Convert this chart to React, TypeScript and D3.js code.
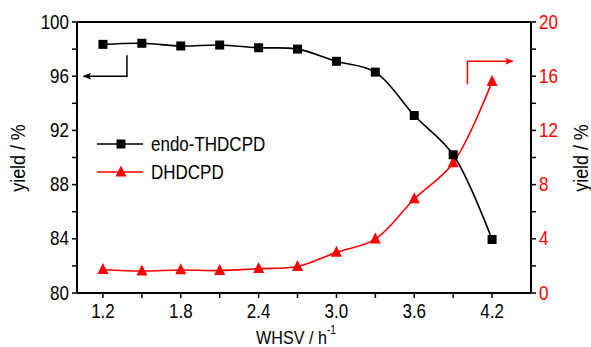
import * as d3 from 'd3'

const WHSV = [1.2, 1.5, 1.8, 2.1, 2.4, 2.7, 3.0, 3.3, 3.6, 3.9, 4.2]
const ENDO = [98.35, 98.43, 98.23, 98.3, 98.1, 98.0, 97.1, 96.3, 93.1, 90.2, 83.95]
const DHDCPD = [1.72, 1.62, 1.7, 1.65, 1.8, 1.95, 3.0, 3.98, 6.94, 9.6, 15.6]

const X_TICKS = [1.2, 1.8, 2.4, 3.0, 3.6, 4.2]
const X_MINOR = [1.5, 2.1, 2.7, 3.3, 3.9]
const YL_TICKS = [80, 84, 88, 92, 96, 100]
const YL_MINOR = [82, 86, 90, 94, 98]
const YR_TICKS = [0, 4, 8, 12, 16, 20]
const YR_MINOR = [2, 6, 10, 14, 18]

const RED = '#FF0000'
const FONT = '"Liberation Sans", Arial, sans-serif'
const SX = 0.85 // the original uses a narrow face

function Txt({ x, y, rot = 0, anchor = 'start', size = 20, fill = '#000', children }:
  { x: number; y: number; rot?: number; anchor?: string; size?: number; fill?: string; children: any }) {
  return (
    <text transform={`translate(${x},${y}) rotate(${rot}) scale(${SX},1)`}
      textAnchor={anchor} fontSize={size} fill={fill}>{children}</text>
  )
}

export default function App() {
  const W = 591, H = 347
  const m = { left: 77, right: 531, top: 22, bottom: 293 }

  const x = d3.scaleLinear().domain([1.0, 4.5]).range([m.left, m.right])
  const yL = d3.scaleLinear().domain([80, 100]).range([m.bottom, m.top])
  const yR = d3.scaleLinear().domain([0, 20]).range([m.bottom, m.top])

  const lineL = d3.line<number>()
    .x((_, i) => x(WHSV[i]))
    .y(d => yL(d))
    .curve(d3.curveCatmullRom.alpha(0.5))
  const lineR = d3.line<number>()
    .x((_, i) => x(WHSV[i]))
    .y(d => yR(d))
    .curve(d3.curveCatmullRom.alpha(0.5))

  const tri = (cx: number, cy: number, s: number) =>
    `M${cx},${cy - s * 0.6}L${cx + s / 2},${cy + s * 0.4}L${cx - s / 2},${cy + s * 0.4}Z`

  const tickLen = 5

  // annotation arrows (in data units)
  const bArrow = { x0: 1.385, yTop: 97.55, yBot: 96.0, xEnd: 1.05 }
  const rArrow = { x0: 4.01, yBot: 15.4, yTop: 17.1, xEnd: 4.36 }

  return (
    <svg width={W} height={H} style={{ position: 'absolute', left: 0, top: 0, background: '#fff' }}
      fontFamily={FONT}>
      <defs>
        <marker id="ah-black" viewBox="0 0 12 10" refX="11" refY="5" markerWidth="12" markerHeight="7"
          markerUnits="userSpaceOnUse" orient="auto">
          <path d="M0,0L12,5L0,10L3,5Z" fill="#000" />
        </marker>
        <marker id="ah-red" viewBox="0 0 12 10" refX="11" refY="5" markerWidth="12" markerHeight="7"
          markerUnits="userSpaceOnUse" orient="auto">
          <path d="M0,0L12,5L0,10L3,5Z" fill={RED} />
        </marker>
      </defs>

      {/* frame */}
      <line x1={m.left} x2={m.right} y1={m.top} y2={m.top} stroke="#000" strokeWidth={2} />
      <line x1={m.left} x2={m.right} y1={m.bottom} y2={m.bottom} stroke="#000" strokeWidth={2} />
      <line x1={m.left} x2={m.left} y1={m.top} y2={m.bottom} stroke="#000" strokeWidth={2} />
      <line x1={m.right} x2={m.right} y1={m.top} y2={m.bottom} stroke="#000" strokeWidth={2} />

      {/* x ticks */}
      {[...X_TICKS, ...X_MINOR].map(t => (
        <line key={'xt' + t} x1={x(t)} x2={x(t)} y1={m.bottom} y2={m.bottom + tickLen} stroke="#000" strokeWidth={1.5} />
      ))}
      {X_TICKS.map(t => (
        <Txt key={'xl' + t} x={x(t)} y={m.bottom + 25} anchor="middle">{t.toFixed(1)}</Txt>
      ))}

      {/* left y ticks */}
      {[...YL_TICKS, ...YL_MINOR].map(t => (
        <line key={'ylt' + t} x1={m.left - tickLen} x2={m.left} y1={yL(t)} y2={yL(t)} stroke="#000" strokeWidth={1.5} />
      ))}
      {YL_TICKS.map(t => (
        <Txt key={'yll' + t} x={m.left - 8} y={yL(t) + 6.5} anchor="end">{t}</Txt>
      ))}

      {/* right y ticks */}
      {[...YR_TICKS, ...YR_MINOR].map(t => (
        <line key={'yrt' + t} x1={m.right} x2={m.right + tickLen} y1={yR(t)} y2={yR(t)} stroke="#000" strokeWidth={1.5} />
      ))}
      {YR_TICKS.map(t => (
        <Txt key={'yrl' + t} x={m.right + 8} y={yR(t) + 6.5} fill={RED}>{t}</Txt>
      ))}

      {/* axis titles */}
      <Txt x={25} y={158} rot={-90} anchor="middle" size={21}>yield / %</Txt>
      <Txt x={588} y={158} rot={-90} anchor="middle" size={21}>yield / %</Txt>
      <Txt x={296} y={344} anchor="middle" size={19}>
        WHSV / h<tspan dy={-10} fontSize={12}>-1</tspan>
      </Txt>

      {/* series */}
      <path d={lineR(DHDCPD) ?? ''} fill="none" stroke={RED} strokeWidth={1.6} />
      {DHDCPD.map((v, i) => (
        <path key={'r' + i} d={tri(x(WHSV[i]), yR(v), 11)} fill={RED} />
      ))}
      <path d={lineL(ENDO) ?? ''} fill="none" stroke="#000" strokeWidth={1.6} />
      {ENDO.map((v, i) => (
        <rect key={'b' + i} x={x(WHSV[i]) - 4.5} y={yL(v) - 4.5} width={9} height={9} fill="#000" />
      ))}

      {/* arrows */}
      <path d={`M${x(bArrow.x0)},${yL(bArrow.yTop)}V${yL(bArrow.yBot)}H${x(bArrow.xEnd)}`}
        fill="none" stroke="#000" strokeWidth={1.5} markerEnd="url(#ah-black)" />
      <path d={`M${x(rArrow.x0)},${yR(rArrow.yBot)}V${yR(rArrow.yTop)}H${x(rArrow.xEnd)}`}
        fill="none" stroke={RED} strokeWidth={1.5} markerEnd="url(#ah-red)" />

      {/* legend */}
      <g transform="translate(97,144)">
        <line x1={0} x2={46} y1={0} y2={0} stroke="#000" strokeWidth={1.6} />
        <rect x={19.5} y={-4.5} width={9} height={9} fill="#000" />
        <Txt x={54} y={7}>endo-THDCPD</Txt>
      </g>
      <g transform="translate(97,172)">
        <line x1={0} x2={46} y1={0} y2={0} stroke={RED} strokeWidth={1.6} />
        <path d={tri(24, 0, 11)} fill={RED} />
        <Txt x={54} y={7}>DHDCPD</Txt>
      </g>
    </svg>
  )
}
